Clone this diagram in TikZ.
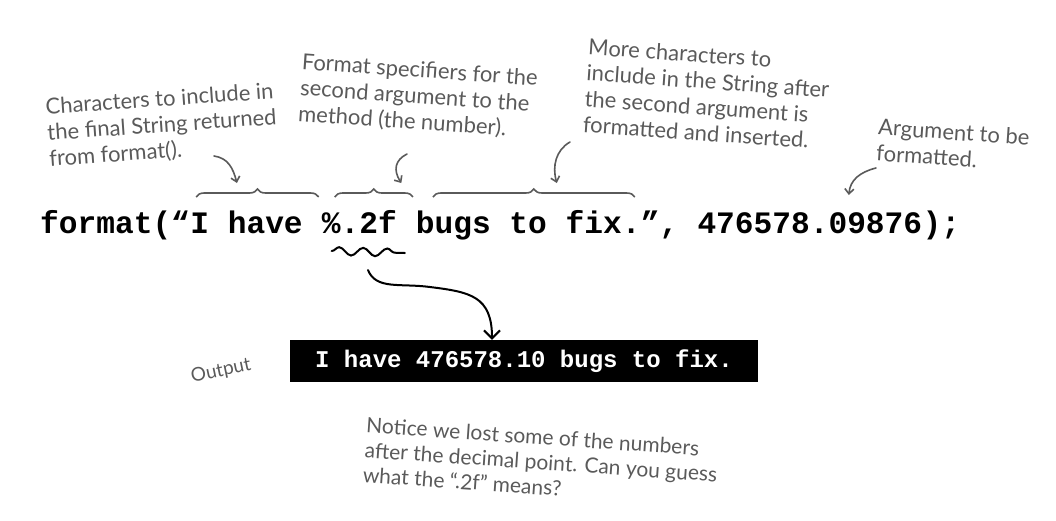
\documentclass[tikz,border=0pt]{standalone}
\usepackage{fontspec}
\usetikzlibrary{positioning,arrows.meta,decorations.pathreplacing,decorations.pathmorphing}
\newfontfamily\handfont{Lato}
\newfontfamily\codefont{Liberation Mono}
\definecolor{ink}{HTML}{5A5A5A}

\begin{document}
\begin{tikzpicture}[x=1pt,y=-1pt,>={Straight Barb[length=5pt,width=9pt]},font=\handfont\fontsize{22}{26}\selectfont]
    \tikzstyle{note}=[text=ink,align=left,inner sep=0pt]
    \tikzstyle{code}=[inner sep=0pt,anchor=base west,font=\codefont\bfseries\fontsize{31.2}{36}\selectfont]
    \tikzstyle{harrow}=[->,draw=ink,line width=1.6pt,line cap=round]
    \tikzstyle{hbrace}=[draw=ink,line width=1.6pt,decorate,decoration={brace,amplitude=8pt}]
    \useasboundingbox (0,0) rectangle (1056,520);

    % the call, split in pieces so the braces can find them
    \node[code] (fmt) at (40,233) {format(“};
    \node[code] (str1) at (fmt.base east) {I have~\null};
    \node[code] (spec) at (str1.base east) {\%.2f};
    \node[code] (str2) at (spec.base east) {~bugs to fix.};
    \node[code] (close) at (str2.base east) {”,~\null};
    \node[code] (arg) at (close.base east) {476578.09876};
    \node[code] (semi) at (arg.base east) {);};

    \node[fill=black,text=white,inner sep=0pt,minimum width=468pt,minimum height=42pt,
          font=\codefont\bfseries\fontsize{24}{28}\selectfont] (outbox) at (524,361) {I have 476578.10 bugs to fix.};
    \node[note,rotate=12,font=\handfont\fontsize{19}{22}\selectfont] (outlbl) at (221,371) {Output};

    \node[note,rotate=4] (n1) at (162,126) {Characters to include in\\the final String returned\\from format().};
    \node[note,rotate=-4] (n2) at (418,97) {Format specifiers for the\\second argument to the\\method (the number).};
    \node[note,rotate=-4] (n3) at (707,94) {More characters to\\include in the String after\\the second argument is\\formatted and inserted.};
    \node[note,rotate=-4] (n4) at (953,145) {Argument to be\\formatted.};
    \node[note,rotate=-4,font=\handfont\fontsize{21}{25}\selectfont] (n5) at (541,462) {Notice we lost some of the numbers\\after the decimal point. Can you guess\\what the “.2f” means?};

    \draw[hbrace] ([xshift=6pt,yshift=36pt]str1.base west) -- ([xshift=-3pt,yshift=36pt]str1.base east);
    \draw[hbrace] ([xshift=13pt,yshift=36pt]spec.base west) -- ([xshift=16pt,yshift=36pt]spec.base east);
    \draw[hbrace] ([xshift=36pt,yshift=36pt]str2.base west) -- ([xshift=-6pt,yshift=36pt]str2.base east);

    \coordinate (a1) at (214,156);
    \coordinate (a2) at (407,154);
    \coordinate (a3) at (570,142);
    \coordinate (a4) at (876,168);
    \draw[harrow] (a1) .. controls (228,158) and (233,168) .. ([xshift=-19pt,yshift=50pt]str1.base);
    \draw[harrow] (a2) .. controls (395,160) and (393,170) .. ([xshift=42pt,yshift=50pt]spec.base);
    \draw[harrow] (a3) .. controls (556,150) and (552,166) .. ([xshift=38pt,yshift=50pt]str2.base);
    \draw[harrow] (a4) .. controls (860,172) and (850,180) .. ([xshift=39pt,yshift=38pt]arg.base);

    \draw[line width=2pt,line cap=round,decorate,decoration={snake,amplitude=4pt,segment length=24pt}]
        ([xshift=10pt,yshift=-18pt]spec.base west) -- ([xshift=8pt,yshift=-20pt]spec.base east);
    \coordinate (sq) at (368,270);
    \draw[->,>={Straight Barb[length=8pt,width=16pt]},line width=2pt,line cap=round]
        (sq) .. controls (376,290) and (400,283) .. (430,287) .. controls (470,292) and (492,296) .. ([xshift=-32pt]outbox.north);
\end{tikzpicture}
\end{document}
